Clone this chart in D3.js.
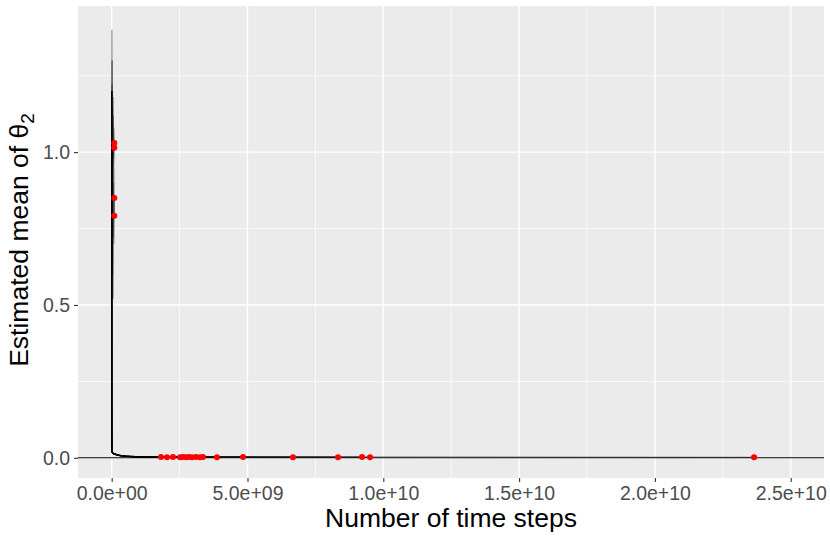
<!DOCTYPE html>
<html>
<head>
<meta charset="utf-8">
<script src="https://cdn.jsdelivr.net/npm/d3@7"></script>
<style>
  html, body { margin: 0; padding: 0; background: #ffffff; }
  svg { display: block; font-family: "Liberation Sans", Arial, sans-serif; }
</style>
</head>
<body>
<svg id="chart" width="830" height="541"></svg>
<script>
// ---------- data ----------
const xTickValues = [0, 5e9, 1e10, 1.5e10, 2e10, 2.5e10];
const xTickLabels = ["0.0e+00", "5.0e+09", "1.0e+10", "1.5e+10", "2.0e+10", "2.5e+10"];
const xMinorValues = [2.5e9, 7.5e9, 1.25e10, 1.75e10, 2.25e10];
const yTickValues = [0, 0.5, 1.0];
const yTickLabels = ["0.0", "0.5", "1.0"];
const yMinorValues = [0.25, 0.75, 1.25];

// visible panel limits
const xLimits = [-1.24e9, 2.6225e10];
const yLimits = [-0.066, 1.478];

// trajectories that stay high (end at ~1e8 steps)
const highPath1 = [[0,1.0],[8e6,1.40],[1.6e7,1.15],[2.5e7,1.30],[3.5e7,0.95],[5e7,1.18],[6.5e7,0.98],[8e7,1.08],[9.6e7,1.030]];
const highPath2 = [[0,1.0],[1e7,1.22],[2e7,0.85],[3.2e7,1.20],[4.5e7,0.90],[6e7,1.12],[7.5e7,0.95],[9.6e7,1.014]];
const highPath3 = [[0,1.0],[1.2e7,0.75],[2.4e7,1.15],[3.6e7,0.65],[5e7,0.52],[6.5e7,0.90],[8e7,0.70],[9.6e7,0.850]];
const highPath4 = [[0,1.0],[9e6,1.30],[2.2e7,0.90],[3.4e7,0.60],[4.8e7,1.00],[6.2e7,0.72],[8e7,0.95],[9.6e7,0.792]];

// early decay of the trajectories that fall to ~0
const lowEarlyA = [[0,1.0],[1e6,0.30],[3e6,0.060],[8e6,0.022],[3e7,0.016],[1e8,0.013],[2.5e8,0.009],[5e8,0.005],[1e9,0.003]];
const lowEarlyB = [[0,1.2],[1.5e6,0.20],[4e6,0.040],[1e7,0.018],[5e7,0.014],[1.5e8,0.011],[3e8,0.007],[7e8,0.004],[1.2e9,0.003]];
const lowEarlyC = [[0,0.9],[1e6,0.25],[2.5e6,0.050],[6e6,0.020],[4e7,0.017],[1e8,0.012],[2e8,0.009],[4e8,0.006],[9e8,0.004]];

// end points (red dots) of the trajectories that fall to ~0
const lowEndTimes  = [1.815e9, 2.036e9, 2.257e9, 2.515e9, 2.625e9, 2.736e9, 2.846e9, 2.957e9, 3.104e9,
                      3.251e9, 3.362e9, 3.877e9, 4.834e9, 6.675e9, 8.332e9, 9.216e9, 9.510e9, 2.365e10];
const lowEndValues = [0.003, 0.002, 0.003, 0.002, 0.003, 0.002, 0.003, 0.002, 0.003,
                      0.002, 0.003, 0.002, 0.003, 0.002, 0.002, 0.003, 0.002, 0.002];

const trueValue = 0;

// ---------- layout ----------
const svg = d3.select("#chart");
const panel = { left: 78, right: 824, top: 6, bottom: 478 };

const x = d3.scaleLinear().domain(xLimits).range([panel.left, panel.right]);
const y = d3.scaleLinear().domain(yLimits).range([panel.bottom, panel.top]);

// panel background
svg.append("rect")
  .attr("x", panel.left).attr("y", panel.top)
  .attr("width", panel.right - panel.left).attr("height", panel.bottom - panel.top)
  .attr("fill", "#EBEBEB");

const grid = svg.append("g");
grid.selectAll("line.xminor").data(xMinorValues).join("line")
  .attr("x1", d => x(d)).attr("x2", d => x(d))
  .attr("y1", panel.top).attr("y2", panel.bottom)
  .attr("stroke", "#fff").attr("stroke-width", 0.7);
grid.selectAll("line.yminor").data(yMinorValues).join("line")
  .attr("y1", d => y(d)).attr("y2", d => y(d))
  .attr("x1", panel.left).attr("x2", panel.right)
  .attr("stroke", "#fff").attr("stroke-width", 0.7);
grid.selectAll("line.xmajor").data(xTickValues).join("line")
  .attr("x1", d => x(d)).attr("x2", d => x(d))
  .attr("y1", panel.top).attr("y2", panel.bottom)
  .attr("stroke", "#fff").attr("stroke-width", 1.4);
grid.selectAll("line.ymajor").data(yTickValues).join("line")
  .attr("y1", d => y(d)).attr("y2", d => y(d))
  .attr("x1", panel.left).attr("x2", panel.right)
  .attr("stroke", "#fff").attr("stroke-width", 1.4);

// trajectories
const lowPaths = lowEndTimes.map((t, i) => {
  const early = [lowEarlyA, lowEarlyB, lowEarlyC][i % 3];
  return early.concat([[t, lowEndValues[i]]]);
});
const highPaths = [highPath1, highPath2, highPath3, highPath4];
const allPaths = lowPaths.concat(highPaths);

const line = d3.line().x(d => x(d[0])).y(d => y(d[1]));
svg.append("clipPath").attr("id", "clip").append("rect")
  .attr("x", panel.left).attr("y", panel.top)
  .attr("width", panel.right - panel.left).attr("height", panel.bottom - panel.top);

const plot = svg.append("g").attr("clip-path", "url(#clip)");
plot.selectAll("path.traj").data(allPaths).join("path")
  .attr("class", "traj")
  .attr("d", line)
  .attr("fill", "none")
  .attr("stroke", "#000")
  .attr("stroke-opacity", 0.45)
  .attr("stroke-width", 1.1);

// true value reference line
plot.append("line")
  .attr("x1", panel.left).attr("x2", panel.right)
  .attr("y1", y(trueValue)).attr("y2", y(trueValue))
  .attr("stroke", "#000").attr("stroke-width", 1.1);

// end points
const ends = allPaths.map(p => p[p.length - 1]);
plot.selectAll("circle.end").data(ends).join("circle")
  .attr("class", "end")
  .attr("cx", d => x(d[0])).attr("cy", d => y(d[1]))
  .attr("r", 3)
  .attr("fill", "#FF0000");

// axes
const xAxis = d3.axisBottom(x)
  .tickValues(xTickValues)
  .tickFormat((d, i) => xTickLabels[i])
  .tickSize(4).tickPadding(4);
const gx = svg.append("g").attr("transform", `translate(0,${panel.bottom})`).call(xAxis);
gx.select(".domain").remove();
gx.selectAll(".tick line").attr("stroke", "#333333").attr("stroke-width", 1.1);
gx.selectAll(".tick text").attr("fill", "#4D4D4D").style("font-size", "19.5px")
  .style("font-family", "'Liberation Sans', Arial, sans-serif");

const yAxis = d3.axisLeft(y)
  .tickValues(yTickValues)
  .tickFormat((d, i) => yTickLabels[i])
  .tickSize(4).tickPadding(4);
const gy = svg.append("g").attr("transform", `translate(${panel.left},0)`).call(yAxis);
gy.select(".domain").remove();
gy.selectAll(".tick line").attr("stroke", "#333333").attr("stroke-width", 1.1);
gy.selectAll(".tick text").attr("fill", "#4D4D4D").style("font-size", "19.5px")
  .style("font-family", "'Liberation Sans', Arial, sans-serif");

// axis titles
svg.append("text")
  .attr("x", (panel.left + panel.right) / 2).attr("y", 527)
  .attr("text-anchor", "middle")
  .style("font-size", "26.5px").attr("fill", "#000")
  .text("Number of time steps");

const yt = svg.append("text")
  .attr("transform", `translate(28,${(panel.top + panel.bottom) / 2 - 2}) rotate(-90)`)
  .attr("text-anchor", "middle")
  .style("font-size", "26.5px").attr("fill", "#000");
yt.append("tspan").text("Estimated mean of θ");
yt.append("tspan").attr("dy", 6).style("font-size", "19px").text("2");
</script>
</body>
</html>
